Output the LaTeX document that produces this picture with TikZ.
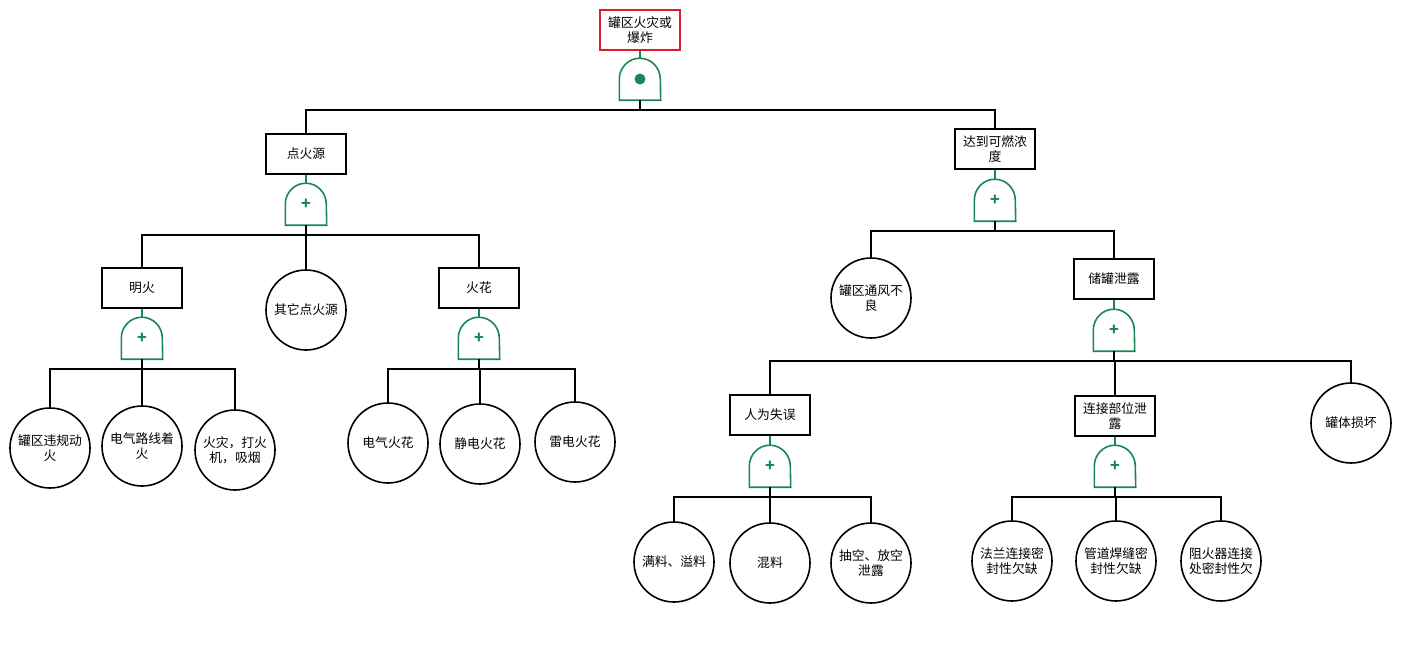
\documentclass[tikz,border=0pt]{standalone}
\usepackage{fontspec}
\setmainfont{Noto Sans CJK SC}
\usetikzlibrary{positioning}
\definecolor{gategreen}{RGB}{26,134,84}
\definecolor{topred}{RGB}{222,32,38}

\begin{document}
\begin{tikzpicture}[x=1pt,y=-1pt,
  every node/.style={font=\fontsize{12.8}{15}\selectfont, align=center},
  event/.style={draw, line width=1.6pt, minimum width=80pt, minimum height=40pt, inner sep=2pt},
  basic/.style={draw, circle, line width=1.6pt, minimum size=80pt, inner sep=0pt},
  gatebox/.style={minimum width=41pt, minimum height=42pt, inner sep=0pt, text=gategreen,
    font=\fontsize{16}{16}\selectfont\bfseries},
  wire/.style={line width=1.6pt},
  gwire/.style={line width=1.6pt, draw=gategreen}]
\useasboundingbox (0,0) rectangle (1401,665);

% top event
\node[event, draw=topred] (top) at (640,30) {罐区火灾或\\爆炸};
\node[gatebox] (g0) at (640,79) {};

% left branch
\node[event] (dhy) at (306,154) {点火源};
\node[gatebox] (g1) at (306,204) {+};
\node[event] (mh) at (142,288) {明火};
\node[gatebox] (g3) at (142,338) {+};
\node[basic] (qt) at (306,310) {其它点火源};
\node[event] (hh) at (479,288) {火花};
\node[gatebox] (g4) at (479,338) {+};

\node[basic] (b1) at (50,448) {罐区违规动\\火};
\node[basic] (b2) at (142,446) {电气路线着\\火};
\node[basic] (b3) at (235,450) {火灾，打火\\机，吸烟};
\node[basic] (b4) at (388,443) {电气火花};
\node[basic] (b5) at (480,444) {静电火花};
\node[basic] (b6) at (575,442) {雷电火花};

% right branch
\node[event] (kr) at (995,149) {达到可燃浓\\度};
\node[gatebox] (g2) at (995,200) {+};
\node[basic] (tf) at (871,298) {罐区通风不\\良};
\node[event] (cg) at (1114,279) {储罐泄露};
\node[gatebox] (g5) at (1114,330) {+};
\node[event] (rw) at (770,415) {人为失误};
\node[gatebox] (g6) at (770,466) {+};
\node[event] (lj) at (1115,416) {连接部位泄\\露};
\node[gatebox] (g7) at (1115,466) {+};
\node[basic] (gt) at (1351,423) {罐体损坏};

\node[basic] (b7) at (674,562) {满料、溢料};
\node[basic] (b8) at (770,563) {混料};
\node[basic] (b9) at (871,563) {抽空、放空\\泄露};
\node[basic] (b10) at (1012,561) {法兰连接密\\封性欠缺};
\node[basic] (b11) at (1116,561) {管道焊缝密\\封性欠缺};
\node[basic] (b12) at (1221,561) {阻火器连接\\处密封性欠};

% gate outlines
\foreach \g in {g0,g1,g2,g3,g4,g5,g6,g7}
  \draw[gwire] (\g.south west) -- ++(0pt,21pt)
    arc[start angle=180, end angle=0, x radius=20.5pt, y radius=21pt] -- (\g.south east) -- cycle;
\fill[gategreen] (g0.center) circle (5.5pt);

% event to gate
\foreach \e/\g in {top/g0,dhy/g1,kr/g2,mh/g3,hh/g4,cg/g5,rw/g6,lj/g7}
  \draw[gwire] (\e.south) -- (\g.north);

% gate to inputs
\foreach \g/\c in {g0/dhy,g0/kr,g1/mh,g1/qt,g1/hh,g3/b1,g3/b2,g3/b3,g4/b4,g4/b5,g4/b6,
    g2/tf,g2/cg,g5/rw,g5/lj,g5/gt,g6/b7,g6/b8,g6/b9,g7/b10,g7/b11,g7/b12}
  \draw[wire] (\g.south) -- ++(0,10) -| (\c.north);

\end{tikzpicture}
\end{document}
